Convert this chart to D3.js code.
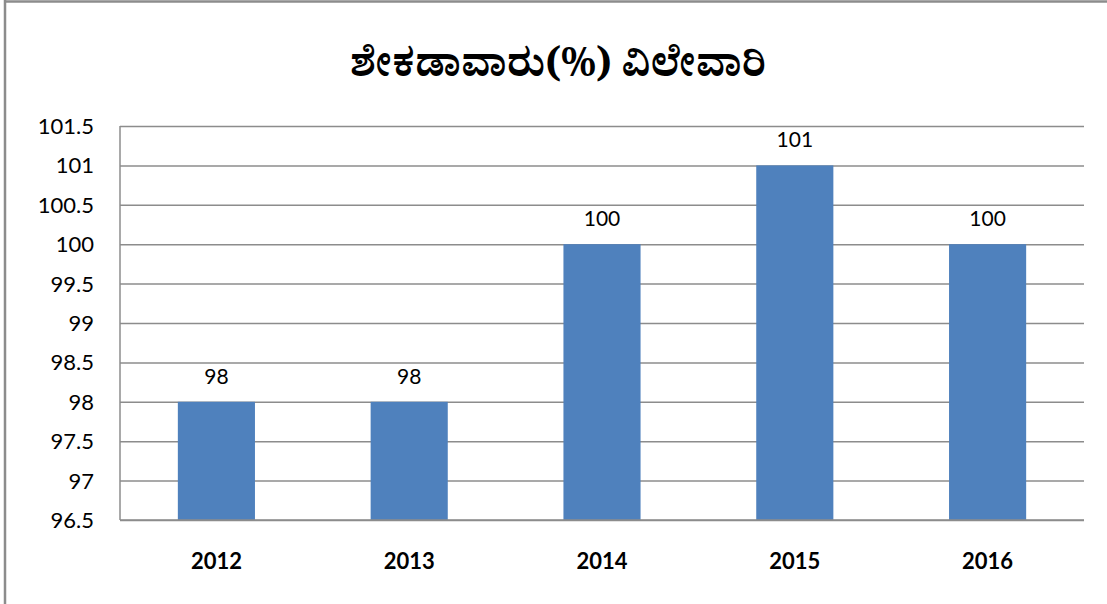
<!DOCTYPE html>
<html>
<head>
<meta charset="utf-8">
<script src="https://cdn.jsdelivr.net/npm/d3@7"></script>
<style>
  html, body { margin: 0; padding: 0; background: #fff; }
  svg { display: block; }
  .tick-label { font-family: Lato, "Open Sans", "Liberation Sans", sans-serif; font-size: 22px; fill: #000; }
  .cat-label { font-family: Lato, "Open Sans", "Liberation Sans", sans-serif; font-size: 22px; font-weight: bold; fill: #000; }
  .data-label { font-family: Lato, "Open Sans", "Liberation Sans", sans-serif; font-size: 21px; fill: #000; }
  .title { font-family: "Tunga", "Noto Serif Kannada", "Noto Sans Kannada", "Noto Sans", serif; font-size: 39px; font-weight: bold; fill: #000; }
</style>
</head>
<body>
<div id="chart"></div>
<script>
const years = ["2012", "2013", "2014", "2015", "2016"];
const values = [98, 98, 100, 101, 100];
const yTicks = [96.5, 97, 97.5, 98, 98.5, 99, 99.5, 100, 100.5, 101, 101.5];
const titleText = "ಶೇಕಡಾವಾರು(%) ವಿಲೇವಾರಿ";

const width = 1107;
const height = 604;
const margin = { top: 126, right: 23, bottom: 84, left: 120 };
const innerWidth = width - margin.left - margin.right;
const innerHeight = height - margin.top - margin.bottom;

const svg = d3.select("#chart")
  .append("svg")
  .attr("width", width)
  .attr("height", height);

// outer chart border (only top and left fall inside the picture)
svg.append("line")
  .attr("x1", 5).attr("x2", width)
  .attr("y1", 1.5).attr("y2", 1.5)
  .attr("stroke", "#8c8c8c")
  .attr("stroke-width", 2.5);
svg.append("line")
  .attr("x1", 5).attr("x2", 5)
  .attr("y1", 0).attr("y2", height)
  .attr("stroke", "#8c8c8c")
  .attr("stroke-width", 2.5);

svg.append("text")
  .attr("class", "title")
  .attr("x", 558)
  .attr("y", 76)
  .attr("text-anchor", "middle")
  .text(titleText);

const g = svg.append("g")
  .attr("transform", `translate(${margin.left},${margin.top})`);

const x = d3.scaleBand()
  .domain(years)
  .range([0, innerWidth])
  .paddingInner(0.6)
  .paddingOuter(0.3);

const y = d3.scaleLinear()
  .domain([96.5, 101.5])
  .range([innerHeight, 0]);

// gridlines
g.append("g")
  .call(d3.axisLeft(y).tickValues(yTicks).tickSize(-innerWidth).tickFormat(""))
  .call((sel) => sel.select(".domain").remove())
  .selectAll("line")
  .attr("stroke", "#8c8c8c")
  .attr("stroke-width", 1.5);

// y axis line
g.append("line")
  .attr("x1", 0).attr("x2", 0)
  .attr("y1", 0).attr("y2", innerHeight)
  .attr("stroke", "#8c8c8c")
  .attr("stroke-width", 1.5);

// y tick labels
g.selectAll(".tick-label")
  .data(yTicks)
  .join("text")
  .attr("class", "tick-label")
  .attr("x", -26)
  .attr("y", (d) => y(d) + 8)
  .attr("text-anchor", "end")
  .text((d) => String(d));

// bars
g.selectAll(".bar")
  .data(values)
  .join("rect")
  .attr("class", "bar")
  .attr("x", (d, i) => x(years[i]))
  .attr("y", (d) => y(d))
  .attr("width", x.bandwidth())
  .attr("height", (d) => innerHeight - y(d))
  .attr("fill", "#4F81BD");

// bottom axis line
g.append("line")
  .attr("x1", 0).attr("x2", innerWidth)
  .attr("y1", innerHeight).attr("y2", innerHeight)
  .attr("stroke", "#8c8c8c")
  .attr("stroke-width", 1.5);

// data labels
g.selectAll(".data-label")
  .data(values)
  .join("text")
  .attr("class", "data-label")
  .attr("x", (d, i) => x(years[i]) + x.bandwidth() / 2)
  .attr("y", (d) => y(d) - 18)
  .attr("text-anchor", "middle")
  .text((d) => d);

// category labels
g.selectAll(".cat-label")
  .data(years)
  .join("text")
  .attr("class", "cat-label")
  .attr("x", (d) => x(d) + x.bandwidth() / 2)
  .attr("y", innerHeight + 49)
  .attr("text-anchor", "middle")
  .text((d) => d);
</script>
</body>
</html>
